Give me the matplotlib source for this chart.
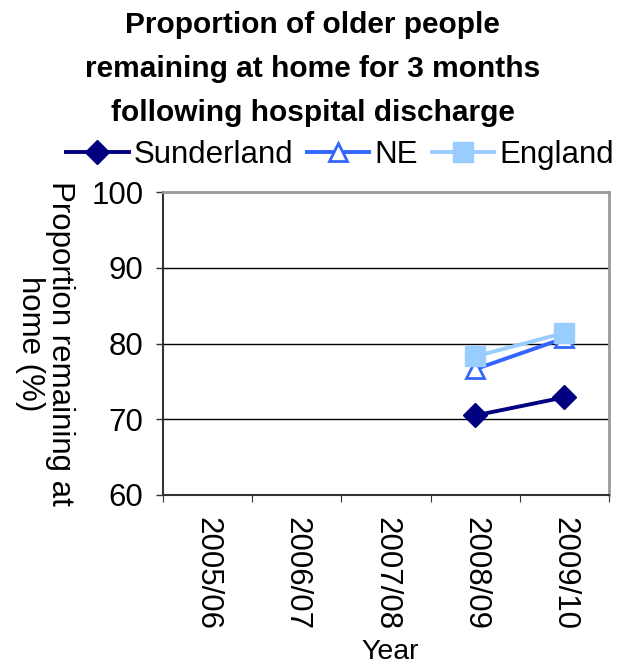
import matplotlib
matplotlib.use('Agg')
import matplotlib.pyplot as plt
import numpy as np

plt.rcParams['font.family'] = ['Liberation Sans', 'DejaVu Sans']

# Data
years = ['2005/06', '2006/07', '2007/08', '2008/09', '2009/10']
sunderland = [np.nan, np.nan, np.nan, 70.5, 72.9]
ne = [np.nan, np.nan, np.nan, 76.6, 80.7]
england = [np.nan, np.nan, np.nan, 78.3, 81.4]

x = np.arange(1, len(years) + 1)

fig = plt.figure(figsize=(6.19, 6.66), dpi=100)
ax = fig.add_axes([163/619, 1 - 495/666, (609 - 163)/619, (495 - 192)/666])

# Series
ax.plot(x, sunderland, color='#000080', lw=2.8, marker='D', ms=12.5,
        label='Sunderland', zorder=3)
ax.plot(x, ne, color='#3366FF', lw=2.8, marker='^', ms=13, mfc='white',
        mec='#3366FF', mew=2, label='NE', zorder=3)
ax.plot(x, england, color='#99CCFF', lw=2.8, marker='s', ms=14,
        label='England', zorder=3)

ax.set_xlim(0.5, len(years) + 0.5)
ax.set_ylim(60, 100)
ax.set_yticks([60, 70, 80, 90, 100])
ax.tick_params(axis='y', labelsize=22.5, length=5, pad=9, direction='out', width=1, color='#333333')

# category ticks between groups, labels at centres
ax.set_xticks(np.arange(0.5, len(years) + 1, 1))
ax.set_xticklabels([])
ax.set_xticks(x, minor=True)
ax.set_xticklabels(years, minor=True, rotation=-90, fontsize=22.5)
ax.tick_params(axis='x', which='major', length=5, direction='out', color='#333333')
ax.tick_params(axis='x', which='minor', length=0, pad=16)

ax.grid(axis='y', color='black', lw=1)
ax.set_axisbelow(True)

for s in ['top', 'right']:
    ax.spines[s].set_color('#999999')
    ax.spines[s].set_linewidth(2)
for s in ['left', 'bottom']:
    ax.spines[s].set_color('#333333')
    ax.spines[s].set_linewidth(1.5)

ax.set_xlabel('Year', fontsize=20.5)
ax.xaxis.set_label_coords(0.51, (495 - 659) / (495 - 192))
ax.xaxis.label.set_va('baseline')
ax.set_ylabel('Proportion remaining at\nhome (%)', fontsize=22.5, rotation=-90,
              labelpad=0, va='center', ha='center', linespacing=1.0)
ax.yaxis.set_label_coords(-0.265, 0.5)

fig.text(0.505, 1 - 11/666, 'Proportion of older people\nremaining at home for 3 months\nfollowing hospital discharge',
         ha='center', va='top', fontsize=21.5, fontweight='bold', linespacing=1.72)

fig.legend(loc='center', bbox_to_anchor=(0.549, 0.768), ncol=3, fontsize=22.5,
           frameon=False, handlelength=2.0, columnspacing=0.45, handletextpad=0.15,
           borderaxespad=0, borderpad=0)

fig.savefig('out.png', dpi=100)
